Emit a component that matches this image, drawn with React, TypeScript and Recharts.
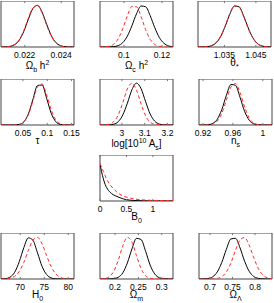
import React from 'react';
import { LineChart, Line, XAxis, YAxis, ReferenceArea, ReferenceLine } from 'recharts';

// marginalised posteriors, peak normalised to 1 (black = solid, red = dashed)
const omegaBX = [0.0207, 0.02095, 0.0212, 0.02145, 0.0217, 0.02195, 0.0222, 0.02245, 0.0227, 0.02295, 0.0232, 0.02345, 0.0237, 0.02395, 0.0242, 0.02445, 0.0247];
const omegaBBlack = [0, 0.003, 0.015, 0.056, 0.164, 0.375, 0.667, 0.923, 0.995, 0.835, 0.546, 0.278, 0.11, 0.034, 0.008, 0.002, 0];
const omegaBRed = [0, 0.004, 0.017, 0.062, 0.177, 0.396, 0.691, 0.937, 0.99, 0.815, 0.522, 0.261, 0.101, 0.031, 0.007, 0.001, 0];
const omegaBTicks = [0.022, 0.024];

const omegaCX = [0.0874, 0.0898, 0.0922, 0.0946, 0.097, 0.0994, 0.1018, 0.1042, 0.1066, 0.109, 0.1114, 0.1138, 0.1162, 0.1186, 0.121, 0.1234, 0.1258];
const omegaCBlack = [0, 0, 0.002, 0.009, 0.034, 0.106, 0.261, 0.51, 0.793, 0.98, 0.962, 0.749, 0.463, 0.228, 0.089, 0.028, 0.007];
const omegaCRed = [0, 0.003, 0.017, 0.066, 0.198, 0.44, 0.749, 0.972, 0.962, 0.726, 0.414, 0.181, 0.06, 0.015, 0.003, 0, 0];
const omegaCTicks = [0.1, 0.12];

const thetaX = [1.0266, 1.02805, 1.0295, 1.03095, 1.0324, 1.03385, 1.0353, 1.03675, 1.0382, 1.03965, 1.0411, 1.04255, 1.044, 1.04545, 1.0469, 1.04835, 1.0498];
const thetaBlack = [0, 0.002, 0.008, 0.032, 0.103, 0.256, 0.505, 0.793, 0.98, 0.962, 0.744, 0.458, 0.224, 0.085, 0.026, 0.006, 0.001];
const thetaRed = [0, 0.002, 0.009, 0.035, 0.11, 0.268, 0.52, 0.805, 0.984, 0.955, 0.73, 0.445, 0.215, 0.08, 0.024, 0.005, 0.001];
const thetaTicks = [1.035, 1.045];

const tauX = [0.005, 0.0144, 0.0238, 0.0331, 0.0425, 0.0519, 0.0613, 0.0706, 0.08, 0.0894, 0.0988, 0.1081, 0.1175, 0.1269, 0.1363, 0.1456, 0.155];
const tauBlack = [0, 0, 0, 0.002, 0.014, 0.074, 0.265, 0.612, 0.944, 0.956, 0.637, 0.282, 0.081, 0.015, 0.002, 0, 0];
const tauRed = [0, 0, 0, 0.002, 0.015, 0.074, 0.252, 0.577, 0.912, 0.982, 0.72, 0.365, 0.125, 0.029, 0.005, 0, 0];
const tauTicks = [0.05, 0.1, 0.15];

const asX = [2.904, 2.924, 2.944, 2.964, 2.984, 3.004, 3.024, 3.044, 3.064, 3.084, 3.104, 3.124, 3.144, 3.164, 3.184, 3.204, 3.224];
const asBlack = [0, 0, 0.004, 0.019, 0.08, 0.24, 0.522, 0.845, 1, 0.869, 0.557, 0.261, 0.091, 0.023, 0.004, 0.001, 0];
const asRed = [0, 0.003, 0.018, 0.078, 0.24, 0.54, 0.864, 1, 0.835, 0.505, 0.22, 0.069, 0.015, 0.003, 0, 0, 0];
const asTicks = [3, 3.1, 3.2];

const nsX = [0.9147, 0.9208, 0.9269, 0.933, 0.9391, 0.9452, 0.9513, 0.9574, 0.9635, 0.9696, 0.9757, 0.9818, 0.9879, 0.994, 1.0001, 1.0062, 1.0123];
const nsBlack = [0, 0.001, 0.007, 0.037, 0.138, 0.37, 0.709, 0.969, 0.947, 0.661, 0.325, 0.115, 0.029, 0.005, 0.001, 0, 0];
const nsRed = [0, 0, 0.004, 0.022, 0.093, 0.278, 0.595, 0.908, 0.99, 0.772, 0.43, 0.168, 0.047, 0.01, 0.001, 0, 0];
const nsTicks = [0.92, 0.96, 1];

const b0X = [0, 0.03, 0.063, 0.1, 0.126, 0.19, 0.25, 0.32, 0.44, 0.57, 0.7, 0.9, 1.1, 1.38];
const b0Black = [0.89, 0.7, 0.53, 0.39, 0.32, 0.21, 0.15, 0.11, 0.05, 0.02, 0.008, 0.003, 0.001, 0];
const b0Red = [0.89, 0.81, 0.71, 0.6, 0.52, 0.39, 0.3, 0.21, 0.12, 0.07, 0.04, 0.02, 0.012, 0.008];
const b0Ticks = [0, 0.5, 1];

const h0X = [66, 66.95, 67.9, 68.85, 69.8, 70.75, 71.7, 72.65, 73.6, 74.55, 75.5, 76.45, 77.4, 78.35, 79.3, 80.25, 81.2];
const h0Black = [0.001, 0.009, 0.046, 0.161, 0.413, 0.749, 0.984, 0.926, 0.625, 0.301, 0.106, 0.026, 0.005, 0.001, 0, 0, 0];
const h0Red = [0.001, 0.004, 0.019, 0.066, 0.181, 0.397, 0.685, 0.93, 0.995, 0.84, 0.557, 0.296, 0.122, 0.04, 0.01, 0.002, 0];
const h0Ticks = [70, 75, 80];

const omX = [0.168, 0.17775, 0.1875, 0.19725, 0.207, 0.21675, 0.2265, 0.23625, 0.246, 0.25575, 0.2655, 0.27525, 0.285, 0.29475, 0.3045, 0.31425, 0.324];
const omBlack = [0, 0, 0.001, 0.008, 0.041, 0.147, 0.386, 0.72, 0.972, 0.944, 0.661, 0.33, 0.12, 0.031, 0.006, 0.001, 0];
const omRed = [0.002, 0.01, 0.051, 0.181, 0.446, 0.793, 0.996, 0.882, 0.557, 0.248, 0.078, 0.017, 0.003, 0, 0, 0, 0];
const omTicks = [0.2, 0.25, 0.3];

const olX = [0.6756, 0.6857, 0.6958, 0.706, 0.7161, 0.7262, 0.7363, 0.7465, 0.7566, 0.7667, 0.7768, 0.787, 0.7971, 0.8072, 0.8173, 0.8275, 0.8376];
const olBlack = [0, 0.002, 0.013, 0.053, 0.168, 0.397, 0.709, 0.959, 0.972, 0.744, 0.424, 0.184, 0.06, 0.015, 0.003, 0, 0];
const olRed = [0, 0, 0.001, 0.003, 0.015, 0.058, 0.168, 0.386, 0.685, 0.934, 0.99, 0.81, 0.51, 0.252, 0.095, 0.028, 0.006];
const olTicks = [0.7, 0.75, 0.8];

const FONT = '"Liberation Sans", Arial, Helvetica, sans-serif';
const BOX_W = 73;
const BOX_H = 46;
const PAD = 14;
const AXIS_H = 16;
const Y_MAX = 1.1;
const FRAME = '#444';

type PanelDef = {
  left: number;
  top: number;
  domain: [number, number];
  xs: number[];
  black: number[];
  red: number[];
  ticks: number[];
  title: React.ReactNode;
};

const sub = (s: string) => <sub style={{ fontSize: 7, verticalAlign: -3 }}>{s}</sub>;
const sup = (s: string) => <sup style={{ fontSize: 7, verticalAlign: 4 }}>{s}</sup>;

const PANELS: PanelDef[] = [
  { left: 1, top: 1, domain: [0.0207, 0.0247], xs: omegaBX, black: omegaBBlack, red: omegaBRed, ticks: omegaBTicks, title: <>Ω{sub('b')} h{sup('2')}</> },
  { left: 100, top: 1, domain: [0.0874, 0.1258], xs: omegaCX, black: omegaCBlack, red: omegaCRed, ticks: omegaCTicks, title: <>Ω{sub('c')} h{sup('2')}</> },
  { left: 198, top: 1, domain: [1.0266, 1.0498], xs: thetaX, black: thetaBlack, red: thetaRed, ticks: thetaTicks, title: <>θ{sub('*')}</> },
  { left: 1, top: 79, domain: [0.005, 0.155], xs: tauX, black: tauBlack, red: tauRed, ticks: tauTicks, title: <>τ</> },
  { left: 100, top: 79, domain: [2.904, 3.224], xs: asX, black: asBlack, red: asRed, ticks: asTicks, title: <>log[10{sup('10')} A{sub('s')}]</> },
  { left: 199, top: 79, domain: [0.9147, 1.0123], xs: nsX, black: nsBlack, red: nsRed, ticks: nsTicks, title: <>n{sub('s')}</> },
  { left: 100, top: 155, domain: [0, 1.38], xs: b0X, black: b0Black, red: b0Red, ticks: b0Ticks, title: <>B{sub('0')}</> },
  { left: 1, top: 233, domain: [66, 81.2], xs: h0X, black: h0Black, red: h0Red, ticks: h0Ticks, title: <>H{sub('0')}</> },
  { left: 100, top: 233, domain: [0.168, 0.324], xs: omX, black: omBlack, red: omRed, ticks: omTicks, title: <>Ω{sub('m')}</> },
  { left: 199, top: 233, domain: [0.6756, 0.8376], xs: olX, black: olBlack, red: olRed, ticks: olTicks, title: <>Ω{sub('Λ')}</> },
];

function Panel({ p }: { p: PanelDef }) {
  const data = p.xs.map((x, i) => ({ x, black: p.black[i], red: p.red[i] }));
  return (
    <>
      <div style={{ position: 'absolute', left: p.left - PAD, top: p.top }}>
        <LineChart
          width={BOX_W + 2 * PAD}
          height={BOX_H + AXIS_H}
          data={data}
          margin={{ top: 0, right: PAD, bottom: 0, left: PAD }}
        >
          <XAxis
            type="number"
            dataKey="x"
            domain={p.domain}
            ticks={p.ticks}
            allowDataOverflow
            height={AXIS_H}
            axisLine={false}
            tickLine={false}
            tickSize={3}
            tickMargin={2}
            interval={0}
            tick={{ fill: '#000', fontSize: 8.5, fontFamily: FONT }}
          />
          <YAxis hide domain={[0, Y_MAX]} allowDataOverflow />
          <Line type="monotone" dataKey="black" stroke="#000" strokeWidth={1} dot={false} isAnimationActive={false} />
          <Line
            type="monotone"
            dataKey="red"
            stroke="#ff2a2a"
            strokeWidth={1}
            strokeDasharray="3.5 2.5"
            dot={false}
            isAnimationActive={false}
          />
          {p.ticks.map((t) => (
            <ReferenceLine key={'b' + t} segment={[{ x: t, y: 0 }, { x: t, y: 0.05 }]} stroke="#777" />
          ))}
          {p.ticks.map((t) => (
            <ReferenceLine key={'t' + t} segment={[{ x: t, y: Y_MAX }, { x: t, y: Y_MAX - 0.05 }]} stroke="#777" />
          ))}
          <ReferenceArea x1={p.domain[0]} x2={p.domain[1]} y1={0} y2={Y_MAX} fill="none" stroke={FRAME} strokeWidth={1} />
        </LineChart>
      </div>
      <div
        style={{
          position: 'absolute',
          left: p.left,
          width: BOX_W,
          top: p.top + BOX_H + 10,
          textAlign: 'center',
          fontFamily: FONT,
          fontSize: 10,
          lineHeight: '12px',
          color: '#000',
          whiteSpace: 'nowrap',
        }}
      >
        {p.title}
      </div>
    </>
  );
}

export default function App() {
  return (
    <div style={{ position: 'absolute', left: 0, top: 0, width: 274, height: 303, background: '#fff', overflow: 'hidden' }}>
      {PANELS.map((p, i) => (
        <Panel key={i} p={p} />
      ))}
    </div>
  );
}
